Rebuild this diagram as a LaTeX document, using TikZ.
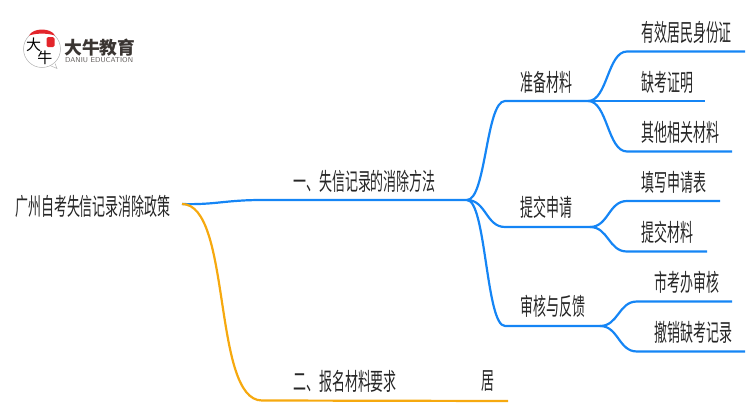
\documentclass[tikz,border=0pt]{standalone}
\usepackage{fontspec}
\usetikzlibrary{calc}
\newfontfamily\cjk[FakeStretch=0.54]{Noto Sans CJK SC}
\newfontfamily\cjklogo{Noto Sans CJK SC}
\definecolor{mapblue}{HTML}{1585F5}
\definecolor{maporange}{HTML}{F6A90F}
\definecolor{logored}{HTML}{E3252B}
\definecolor{logoink}{HTML}{3A3532}
\tikzset{
	leaf/.style={anchor=west, inner sep=0pt, text=black!85,
		font=\cjk\fontsize{24}{24}\selectfont},
	blueline/.style={draw=mapblue, line width=2.2pt},
	orangeline/.style={draw=maporange, line width=2.2pt},
}
\begin{document}
\begin{tikzpicture}[x=1pt, y=-1pt]
\useasboundingbox (0,0) rectangle (750,410);
% logo
\draw[black!30, line width=0.5pt] (42,49) circle[radius=18.5];
\draw[black!30, line width=0.5pt] (50,65.5) -- (57,68.5) -- (55,63.5);
\fill[logored] (29,35.5) .. controls (33,27.5) and (51,27.5) .. (55,35.5)
	.. controls (47,33) and (37,33) .. (29,35.5);
\fill[logored, rounded corners=1.5pt] (46.5,37) rectangle (54.5,47);
\node[inner sep=0pt, font=\cjklogo\fontsize{15}{15}\selectfont] (logoda) at (33.5,45) {大};
\node[inner sep=0pt, font=\cjklogo\fontsize{15}{15}\selectfont] (logoniu) at (45,58) {牛};
\node[anchor=west, inner sep=0pt, text=logoink, font=\cjklogo\bfseries\fontsize{17.8}{18}\selectfont] (logoname) at (64,48) {大牛教育};
\node[anchor=west, inner sep=0pt, text=logoink!80, font=\sffamily\fontsize{7.1}{8}\selectfont] (logosub) at (65,60.5) {DANIU EDUCATION};
% labels
\node[leaf] (root) at (15,206) {广州自考失信记录消除政策};
\node[leaf] (one) at (293,181) {一、失信记录的消除方法};
\node[leaf] (two) at (293,381) {二、报名材料要求};
\node[leaf] (juzhu) at (481,381) {居};
\node[leaf] (prep) at (520,82) {准备材料};
\node[leaf] (submit) at (520,207) {提交申请};
\node[leaf] (review) at (520,306) {审核与反馈};
\node[leaf] (idcard) at (641,32) {有效居民身份证};
\node[leaf] (absent) at (641,82) {缺考证明};
\node[leaf] (other) at (641,132) {其他相关材料};
\node[leaf] (form) at (641,182) {填写申请表};
\node[leaf] (papers) at (641,232) {提交材料};
\node[leaf] (city) at (654,282) {市考办审核};
\node[leaf] (cancel) at (654,332) {撤销缺考记录};
% line ends
\coordinate (rootend) at (182,204);
\coordinate (onehub) at (467,200);
\coordinate (twoa) at (262,400.5);
\coordinate (twob) at (508,401);
\foreach \name/\x/\y in {prepa/505/101, prepb/588/101, submita/505/227, submitb/590/227,
	reviewa/505/326, reviewb/600/326, idcarda/627/51.5, idcardb/745/51.5, absentb/705/101,
	othera/627/151.5, otherb/732/151.5, forma/627/201, formb/720/201, papersa/627/251.5,
	papersb/707/251.5, citya/637/301.5, cityb/732/301.5, cancela/637/351.5, cancelb/745/351.5}
	\coordinate (\name) at (\x,\y);
% connectors
\draw[blueline] (rootend) .. controls (215,205) and (225,200) .. (262,200) -- (onehub);
\draw[orangeline] (rootend) .. controls (232,204) and (212,400.5) .. (twoa) -- (twob);
\foreach \from/\to/\out in {onehub/prepa/prepb, onehub/submita/submitb, onehub/reviewa/reviewb,
	prepb/idcarda/idcardb, prepb/othera/otherb, submitb/forma/formb, submitb/papersa/papersb,
	reviewb/citya/cityb, reviewb/cancela/cancelb}
	\draw[blueline] (\from) .. controls ($(\from)!0.5!(\to |- \from)$) and ($(\to)!0.5!(\from |- \to)$) .. (\to) -- (\out);
\draw[blueline] (prepb) -- (absentb);
\end{tikzpicture}
\end{document}
